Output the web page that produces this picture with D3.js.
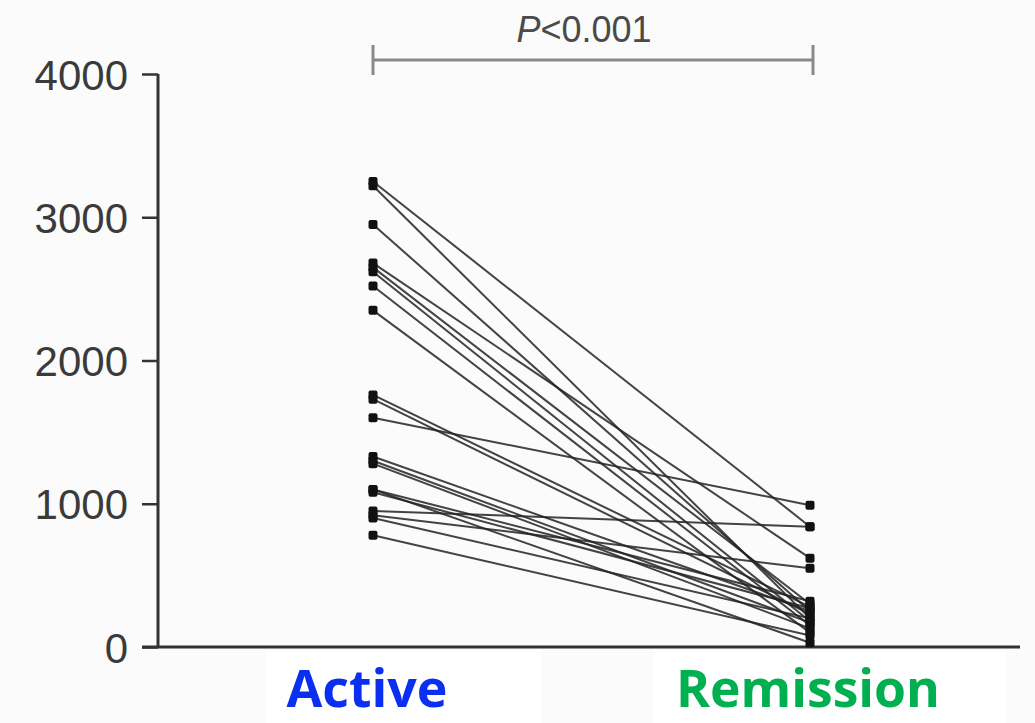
<!DOCTYPE html>
<html><head><meta charset="utf-8">
<script src="https://cdn.jsdelivr.net/npm/d3@7"></script>
<style>html,body{margin:0;padding:0;background:#fff;}svg{display:block;}</style>
</head><body>
<svg id="c" width="1035" height="723"></svg>
<script>
const groups = ["Active", "Remission"];
const activeValues    = [3250, 3220, 2950, 2680, 2650, 2620, 2520, 2350, 1760, 1730, 1600, 1330, 1300, 1280, 1100, 1080, 950, 920, 900, 780, 1100];
const remissionValues = [ 840,  200,  250,  620,  300,  180,  150,  100,  280,  230,  990,  250,  170,  130,  320,  270, 840, 550, 200,  80,   30];
const yTicks = [0, 1000, 2000, 3000, 4000];
const pLabel = "P<0.001";

const svg = d3.select("#c");
const W = 1035, H = 723;
svg.append("rect").attr("width", W).attr("height", H).attr("fill", "#fbfbfb");

const y = d3.scaleLinear().domain([0, 4000]).range([647, 74]);
const x = d3.scalePoint().domain(groups).range([373, 810]);

// white label boxes under the axis
svg.append("rect").attr("x", 266).attr("y", 650).attr("width", 275).attr("height", 73).attr("fill", "#fff");
svg.append("rect").attr("x", 653).attr("y", 650).attr("width", 353).attr("height", 73).attr("fill", "#fff");

// y axis
const yAxis = d3.axisLeft(y).tickValues(yTicks).tickSize(16).tickPadding(14).tickFormat(d3.format("d"));
const gy = svg.append("g").attr("transform", "translate(158,0)").call(yAxis);
gy.select(".domain").attr("stroke", "#333").attr("stroke-width", 3).attr("d", `M0,${y(4000)}V${y(0)}`);
gy.selectAll(".tick line").attr("stroke", "#333").attr("stroke-width", 2.5);
gy.selectAll(".tick text").attr("fill", "#3a3a3a").style("font-family", "'Liberation Sans', Arial, sans-serif").style("font-size", "42px").attr("dy", "0.36em");

// x axis line
svg.append("line").attr("x1", 142).attr("x2", 1020).attr("y1", y(0)).attr("y2", y(0)).attr("stroke", "#333").attr("stroke-width", 3);

// paired lines
const pairs = activeValues.map((a, i) => [a, remissionValues[i]]);
svg.append("g").selectAll("line").data(pairs).join("line")
  .attr("x1", x("Active")).attr("y1", d => y(d[0]))
  .attr("x2", x("Remission")).attr("y2", d => y(d[1]))
  .attr("stroke", "#222").attr("stroke-width", 2).attr("stroke-opacity", 0.85);

// points
const pts = [];
pairs.forEach(d => { pts.push([groups[0], d[0]]); pts.push([groups[1], d[1]]); });
svg.append("g").selectAll("rect").data(pts).join("rect")
  .attr("x", d => x(d[0]) - 4.5).attr("y", d => y(d[1]) - 4.5)
  .attr("width", 9).attr("height", 9).attr("rx", 2)
  .attr("fill", "#111");

// significance bracket
const by = 60;
const br = svg.append("g").attr("stroke", "#8a8a8a").attr("stroke-width", 3);
br.append("line").attr("x1", x("Active")).attr("x2", x("Remission") + 3).attr("y1", by).attr("y2", by);
br.append("line").attr("x1", x("Active")).attr("x2", x("Active")).attr("y1", by - 15).attr("y2", by + 15);
br.append("line").attr("x1", x("Remission") + 3).attr("x2", x("Remission") + 3).attr("y1", by - 15).attr("y2", by + 15);
const pt = svg.append("text").attr("x", 584).attr("y", 42).attr("text-anchor", "middle")
  .attr("fill", "#4a4a4a").style("font-family", "'Liberation Sans', Arial, sans-serif").style("font-size", "36px");
pt.append("tspan").attr("font-style", "italic").text(pLabel.slice(0, 1));
pt.append("tspan").text(pLabel.slice(1));

// group labels
const labelColors = {"Active": "#0a2ff0", "Remission": "#00b050"};
const labelWidths = {"Active": 161, "Remission": 264};
const labelCenters = {"Active": 367, "Remission": 808};
svg.append("g").selectAll("text").data(groups).join("text")
  .attr("x", d => labelCenters[d]).attr("y", 707).attr("text-anchor", "middle")
  .attr("fill", d => labelColors[d])
  .attr("textLength", d => labelWidths[d]).attr("lengthAdjust", "spacingAndGlyphs")
  .style("font-family", "'Open Sans', Lato, sans-serif").style("font-weight", "bold").style("font-size", "52px")
  .text(d => d);
</script>
</body></html>
